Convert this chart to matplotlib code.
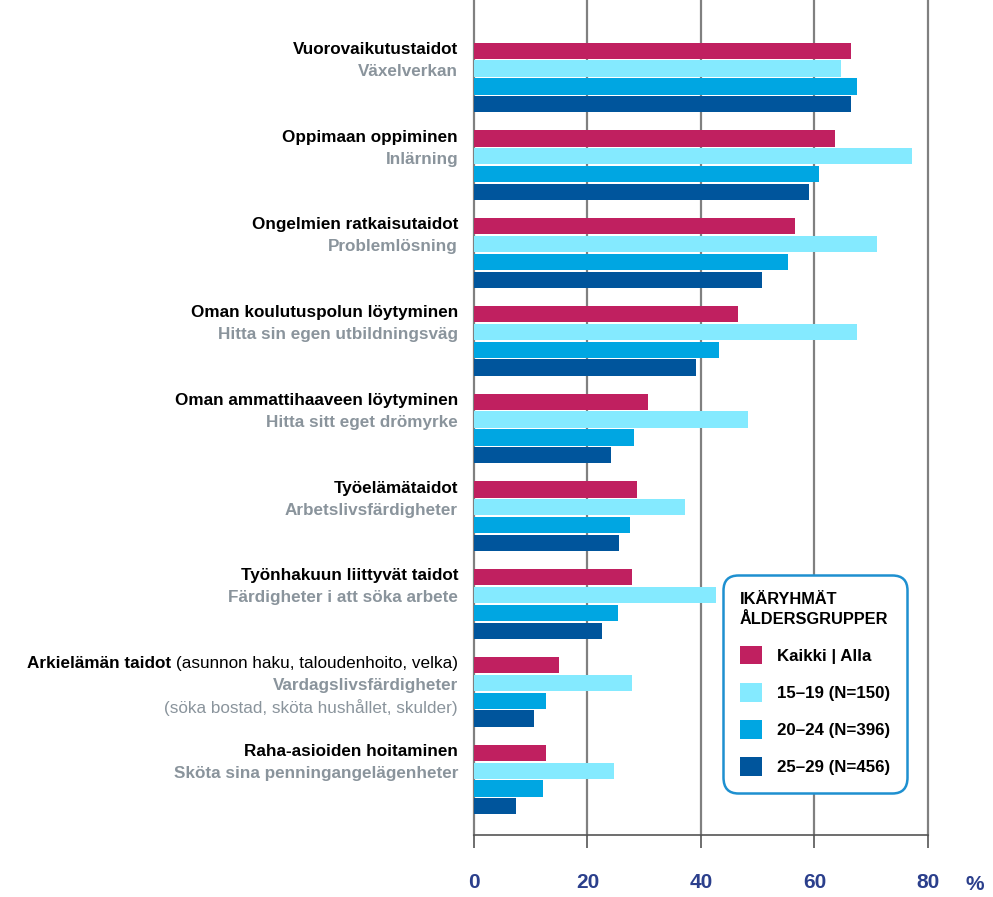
import matplotlib
matplotlib.use("Agg")
import matplotlib.pyplot as plt
from matplotlib.patches import Patch
import numpy as np

plt.rcParams['font.family'] = ['Liberation Sans Narrow', 'Liberation Sans', 'DejaVu Sans']

# data
fi_labels = ['Vuorovaikutustaidot', 'Oppimaan oppiminen', 'Ongelmien ratkaisutaidot',
             'Oman koulutuspolun löytyminen', 'Oman ammattihaaveen löytyminen',
             'Työelämätaidot', 'Työnhakuun liittyvät taidot', 'Arkielämän taidot',
             'Raha-asioiden hoitaminen']
fi_extra = ['', '', '', '', '', '', '', ' (asunnon haku, taloudenhoito, velka)', '']
sv_labels = ['Växelverkan', 'Inlärning', 'Problemlösning', 'Hitta sin egen utbildningsväg',
             'Hitta sitt eget drömyrke', 'Arbetslivsfärdigheter', 'Färdigheter i att söka arbete',
             'Vardagslivsfärdigheter', 'Sköta sina penningangelägenheter']
sv_extra = ['', '', '', '', '', '', '', '(söka bostad, sköta hushållet, skulder)', '']

series = ['Kaikki | Alla', '15–19 (N=150)', '20–24 (N=396)', '25–29 (N=456)']
kaikki = [66.4, 63.7, 56.6, 46.6, 30.6, 28.8, 27.9, 14.9, 12.7]
age15 = [64.7, 77.1, 71.0, 67.5, 48.3, 37.1, 42.6, 27.9, 24.7]
age20 = [67.5, 60.8, 55.4, 43.2, 28.2, 27.5, 25.4, 12.7, 12.2]
age25 = [66.4, 59.0, 50.7, 39.2, 24.2, 25.6, 22.6, 10.6, 7.4]
colors = ['#C02060', '#84EAFF', '#00A6E2', '#00559C']

ticks = [0, 20, 40, 60, 80]

fig = plt.figure(figsize=(9.93, 8.97), dpi=100)
ax = fig.add_axes([0.4773, 0.0691, 0.4572, 0.9309])

y = np.arange(len(fi_labels))
pitch = 0.203
h = 0.185
for i, vals in enumerate([kaikki, age15, age20, age25]):
    ax.barh(y + (i - 1.5) * pitch, vals, height=h, color=colors[i], zorder=3)

ax.set_xlim(0, 80)
ax.set_ylim(8.632, -0.883)
ax.set_xticks(ticks)
ax.set_xticklabels([str(t) for t in ticks], fontsize=15, fontweight='bold', color='#2B3F8C')
ax.set_yticks([])
for s in ['top', 'right', 'left']:
    ax.spines[s].set_visible(False)
ax.spines['bottom'].set_color('#555555')
ax.spines['bottom'].set_linewidth(1.2)
ax.tick_params(axis='x', length=9.5, width=1.2, color='#555555', pad=18)
ax.grid(axis='x', color='#808080', linewidth=1.6, zorder=0)
for gl in ax.get_xgridlines():
    gl.set_clip_on(False)
fig.text(0.982, 1 - 884 / 897, '%', fontsize=15, fontweight='bold', color='#2B3F8C',
         ha='center', va='center')

tr = ax.get_yaxis_transform()
gray = '#8A949C'
fs = 12.3
for i in range(len(fi_labels)):
    if fi_extra[i]:
        t = ax.text(-0.035, i - 0.32, fi_extra[i].strip(), transform=tr, ha='right', va='center',
                    fontsize=fs, color='black')
        ax.annotate(fi_labels[i] + ' ', xy=(0, 0), xycoords=t, ha='right', va='bottom',
                    fontsize=fs, fontweight='bold', color='black')
    else:
        ax.text(-0.035, i - 0.32, fi_labels[i], transform=tr, ha='right', va='center',
                fontsize=fs, fontweight='bold', color='black')
    ax.text(-0.035, i - 0.07, sv_labels[i], transform=tr, ha='right', va='center',
            fontsize=fs, fontweight='bold', color=gray)
    if sv_extra[i]:
        ax.text(-0.035, i + 0.18, sv_extra[i], transform=tr, ha='right', va='center',
                fontsize=fs, color=gray)

handles = [Patch(facecolor=c, edgecolor='none') for c in colors]
leg = ax.legend(handles, series, title='IKÄRYHMÄT\nÅLDERSGRUPPER', loc='upper left',
                bbox_to_anchor=(723 / 993, 1 - 575 / 897), bbox_transform=fig.transFigure,
                frameon=True, fancybox=True, alignment='left',
                prop={'size': 12.2, 'weight': 'bold'},
                title_fontproperties={'size': 11.8, 'weight': 'bold'},
                handlelength=1.3, handleheight=1.3, handletextpad=0.9,
                labelspacing=1.1, borderpad=1.0, borderaxespad=0)
leg.get_title().set_linespacing(1.45)
frame = leg.get_frame()
frame.set_edgecolor('#1E90D0')
frame.set_linewidth(1.8)
frame.set_facecolor('white')
frame.set_alpha(1)
frame.set_boxstyle('round,pad=0,rounding_size=0.9')
leg.set_zorder(5)

fig.savefig('out.png', dpi=100, facecolor='white')
